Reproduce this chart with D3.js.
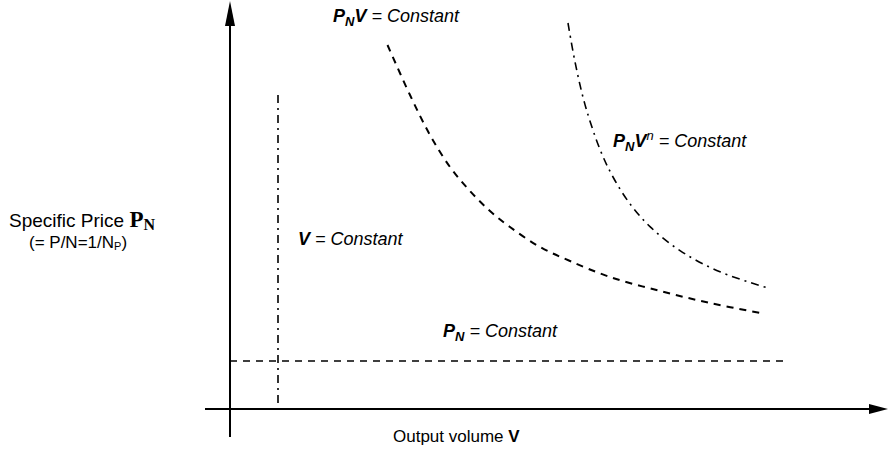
<!DOCTYPE html>
<html>
<head>
<meta charset="utf-8">
<script src="https://cdn.jsdelivr.net/npm/d3@7"></script>
<style>
  body { margin: 0; background: #fff; }
  text { font-family: Arial, "Liberation Sans", sans-serif; fill: #000; }
</style>
</head>
<body>
<div id="chart"></div>
<script>
// curve P_N V = const (dashed)
var pvX = [3.15, 3.6, 4.0, 4.4, 4.8, 5.2, 5.6, 6.2, 6.8, 7.6, 8.6, 9.6, 10.6];
var pvY = [9.1, 7.85, 6.85, 6.05, 5.45, 4.95, 4.55, 4.05, 3.7, 3.3, 2.95, 2.65, 2.40];

// curve P_N V^n = const (dash-dot)
var pvnX = [6.76, 6.9, 7.1, 7.4, 7.66, 8.0, 8.4, 9.0, 9.8, 10.8];
var pvnY = [9.65, 8.68, 7.61, 6.49, 5.80, 5.13, 4.56, 3.96, 3.43, 3.01];

// V = const (vertical dash-dot) and P_N = const (horizontal dashed)
var vConst = 0.96, vConstTop = 7.85;
var pConst = 1.2, pConstEnd = 11.1;

var width = 889, height = 450;
var x = d3.scaleLinear().domain([0, 13]).range([230, 880]);
var y = d3.scaleLinear().domain([0, 10]).range([409, 9]);

var svg = d3.select("#chart").append("svg")
    .attr("width", width).attr("height", height);

// axes with arrow heads
svg.append("line")
    .attr("x1", x(0)).attr("y1", 437).attr("x2", x(0)).attr("y2", 10)
    .attr("stroke", "#000").attr("stroke-width", 2);
svg.append("path")
    .attr("d", "M" + x(0) + ",1 L" + (x(0) - 5) + ",26 L" + (x(0) + 5) + ",26 Z")
    .attr("fill", "#000");
svg.append("line")
    .attr("x1", 205).attr("y1", y(0)).attr("x2", 875).attr("y2", y(0))
    .attr("stroke", "#000").attr("stroke-width", 2);
svg.append("path")
    .attr("d", "M888," + y(0) + " L869," + (y(0) - 5) + " L869," + (y(0) + 5) + " Z")
    .attr("fill", "#000");

var line = d3.line().x(function (d) { return x(d[0]); }).y(function (d) { return y(d[1]); })
    .curve(d3.curveCatmullRom);

svg.append("path")
    .datum(d3.zip(pvX, pvY))
    .attr("d", line)
    .attr("fill", "none").attr("stroke", "#000").attr("stroke-width", 2)
    .attr("stroke-dasharray", "7,6");

svg.append("path")
    .datum(d3.zip(pvnX, pvnY))
    .attr("d", line)
    .attr("fill", "none").attr("stroke", "#000").attr("stroke-width", 1.6)
    .attr("stroke-dasharray", "8,5,2,5");

svg.append("line")
    .attr("x1", x(vConst)).attr("y1", y(vConstTop)).attr("x2", x(vConst)).attr("y2", y(0))
    .attr("stroke", "#000").attr("stroke-width", 1.6)
    .attr("stroke-dasharray", "8,5,2,5");

svg.append("line")
    .attr("x1", x(0)).attr("y1", y(pConst)).attr("x2", x(pConstEnd)).attr("y2", y(pConst))
    .attr("stroke", "#000").attr("stroke-width", 1.5)
    .attr("stroke-dasharray", "7,6");

// labels
function label(px, py, parts) {
    var t = svg.append("text").attr("x", px).attr("y", py)
        .attr("font-size", 18).attr("font-style", "italic");
    parts.forEach(function (p) {
        var s = t.append("tspan").text(p.t);
        if (p.b) s.attr("font-weight", "bold");
        if (p.sub) s.attr("font-size", 13).attr("dy", 4);
        if (p.sup) s.attr("font-size", 13).attr("dy", -7);
        if (p.dy) s.attr("dy", p.dy);
    });
    return t;
}
label(333, 22, [{t: "P", b: 1}, {t: "N", b: 1, sub: 1}, {t: "V", b: 1, dy: -4}, {t: " = Constant"}]);
label(613, 147, [{t: "P", b: 1}, {t: "N", b: 1, sub: 1}, {t: "V", b: 1, dy: -4}, {t: "n", sup: 1}, {t: " = Constant", dy: 7}]);
label(298, 245, [{t: "V", b: 1}, {t: " = Constant"}]);
label(443, 337, [{t: "P", b: 1}, {t: "N", b: 1, sub: 1}, {t: " = Constant", dy: -4}]);

var xt = svg.append("text").attr("x", 393).attr("y", 442).attr("font-size", 17);
xt.append("tspan").text("Output volume ");
xt.append("tspan").attr("font-weight", "bold").text("V");

var serif = "'Liberation Serif', 'DejaVu Serif', serif";
var yt = svg.append("text").attr("x", 9).attr("y", 227).attr("font-size", 19);
yt.append("tspan").text("Specific Price ");
yt.append("tspan").attr("font-family", serif)
    .attr("font-weight", "bold").attr("font-size", 23).text("P");
yt.append("tspan").attr("font-family", serif)
    .attr("font-weight", "bold").attr("font-size", 16).attr("dy", 3).text("N");

var yt2 = svg.append("text").attr("x", 29).attr("y", 248).attr("font-size", 17);
yt2.append("tspan").text("(= P/N=1/N");
yt2.append("tspan").attr("font-size", 11).attr("dy", 2).text("P");
yt2.append("tspan").attr("dy", -2).text(")");
</script>
</body>
</html>
